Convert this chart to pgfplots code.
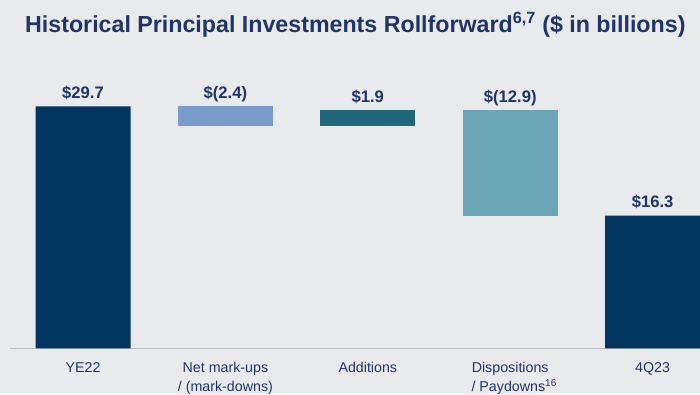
\documentclass[border=0pt]{standalone}
\usepackage{pgfplots}
\pgfplotsset{compat=1.18}
\usepackage{fontspec}
\setmainfont{Liberation Sans}
\definecolor{navy}{HTML}{023560}
\definecolor{lblue}{HTML}{7A9CCB}
\definecolor{teal1}{HTML}{1F667A}
\definecolor{lteal}{HTML}{6BA6B7}
\definecolor{bgc}{HTML}{E9EAEC}
\definecolor{txt}{HTML}{1F3468}
\definecolor{basec}{HTML}{BDBFC3}
\tikzset{vlab/.style={anchor=base, inner sep=0pt, text=txt, font=\fontsize{16.7}{19}\selectfont\bfseries, yshift=8bp}}
\begin{document}
\begin{tikzpicture}[x=1bp,y=1bp]
\fill[bgc] (0,0) rectangle (700,394);
\node[anchor=base west, inner sep=0pt, text=txt, font=\fontsize{23.3}{27}\selectfont\bfseries] at (25,362)
  {Historical Principal Investments Rollforward\textsuperscript{6,7} (\$ in billions)};
\begin{axis}[
  at={(0,56)}, anchor=south west, scale only axis,
  width=700bp, height=260.7bp,
  xmin=-0.583, xmax=4.333, ymin=0, ymax=32,
  axis line style={draw=none}, tick style={draw=none},
  ytick=\empty, xtick={0,1,2,3,4},
  xticklabels={YE22, {Net mark-ups\\/ (mark-downs)}, Additions, {Dispositions\\\hspace*{8bp}/ Paydowns\textsuperscript{16}}, 4Q23},
  xticklabel style={align=center, anchor=north, inner sep=0pt, yshift=-14bp, text=txt, font=\fontsize{14.3}{19}\selectfont},
  ybar stacked, bar width=95bp, clip=false,
]
\addplot[draw=none, fill=none] coordinates {(0,0) (1,27.3) (2,27.3) (3,16.3) (4,0)};
\addplot[draw=none, fill=navy] coordinates {(0,29.7) (1,0) (2,0) (3,0) (4,16.3)};
\addplot[draw=none, fill=lblue] coordinates {(0,0) (1,2.4) (2,0) (3,0) (4,0)};
\addplot[draw=none, fill=teal1] coordinates {(0,0) (1,0) (2,1.9) (3,0) (4,0)};
\addplot[draw=none, fill=lteal] coordinates {(0,0) (1,0) (2,0) (3,12.9) (4,0)};
\draw[basec, line width=0.8bp] (axis cs:-0.515,0) -- (axis cs:4.333,0);
\node[vlab] at (axis cs:0,29.7) {\$29.7};
\node[vlab] at (axis cs:1,29.7) {\$(2.4)};
\node[vlab] at (axis cs:2,29.2) {\$1.9};
\node[vlab] at (axis cs:3,29.2) {\$(12.9)};
\node[vlab] at (axis cs:4,16.3) {\$16.3};
\end{axis}
\pgfresetboundingbox
\useasboundingbox (0,0) rectangle (700,394);
\end{tikzpicture}
\end{document}
